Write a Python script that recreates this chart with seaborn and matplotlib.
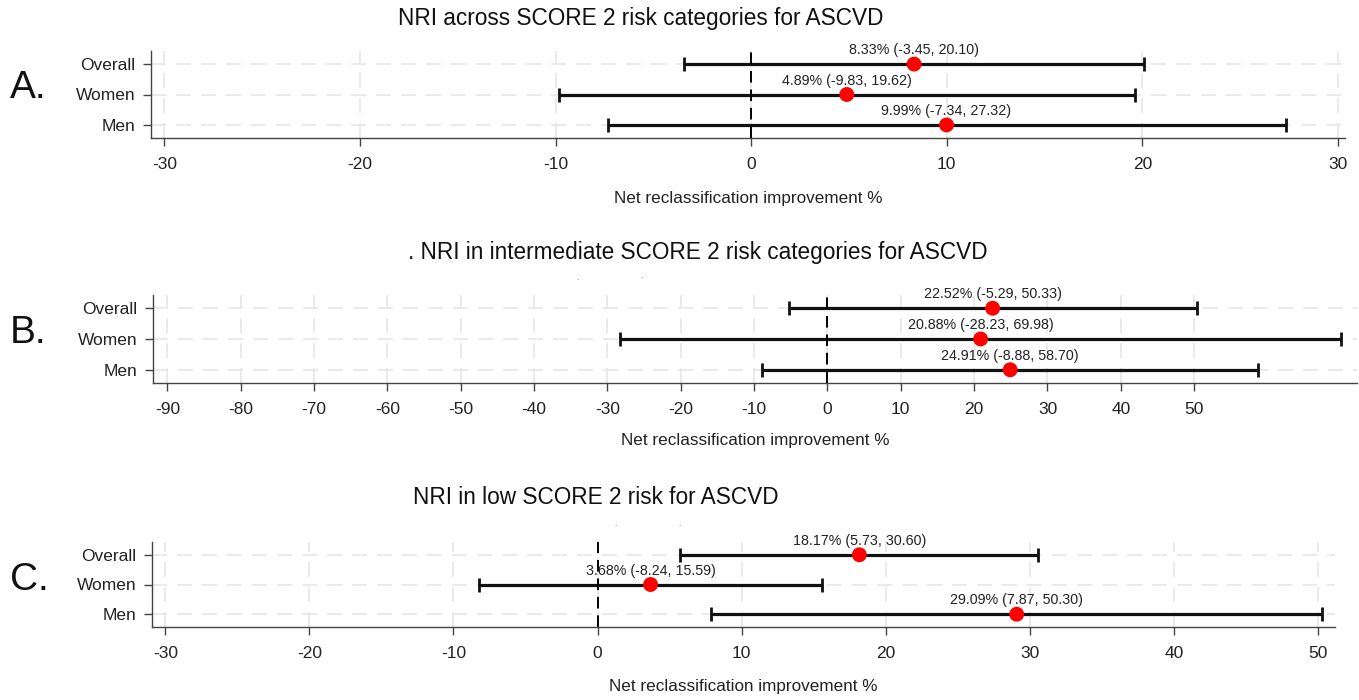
import numpy as np
import pandas as pd
import matplotlib
matplotlib.use("Agg")
import matplotlib.pyplot as plt
import seaborn as sns

# ---- data ----
groups = ["Overall", "Women", "Men"]

titles = ["NRI across SCORE 2 risk categories for ASCVD",
          ". NRI in intermediate SCORE 2 risk categories for ASCVD",
          "NRI in low SCORE 2 risk for ASCVD"]
panel_letters = ["A.", "B.", "C."]

a_est = [8.33, 4.89, 9.99]
a_lo = [-3.45, -9.83, -7.34]
a_hi = [20.10, 19.62, 27.32]

b_est = [22.52, 20.88, 24.91]
b_lo = [-5.29, -28.23, -8.88]
b_hi = [50.33, 69.98, 58.70]

c_est = [18.17, 3.68, 29.09]
c_lo = [5.73, -8.24, 7.87]
c_hi = [30.60, 15.59, 50.30]

a_ticks = [-30, -20, -10, 0, 10, 20, 30]
b_ticks = [-90, -80, -70, -60, -50, -40, -30, -20, -10, 0, 10, 20, 30, 40, 50]
c_ticks = [-30, -20, -10, 0, 10, 20, 30, 40, 50]

xlabel = "Net reclassification improvement %"

# ---- style ----
sns.set_theme(style="white")
regular = ["Liberation Sans", "DejaVu Sans"]
plt.rcParams["font.family"] = regular

W, H = 1359, 700
fig = plt.figure(figsize=(W / 100, H / 100), dpi=100)
fig.patch.set_facecolor("white")

# axes boxes in pixels: left, right, top, bottom
boxes = [(151, 1345, 51, 138), (153, 1357, 295, 383), (152, 1335, 542, 627)]
xlims = [(-30.68, 30.36), (-91.96, 72.2), (-30.92, 51.18)]
title_pos = [(641, 18), (698, 253), (596, 497)]
letter_y = [88, 333, 580]
xlabel_y = [198, 441, 686]
stray_dots = [(577, 279), (641, 276), (615, 524), (679, 524)]

panels = [(a_est, a_lo, a_hi, a_ticks), (b_est, b_lo, b_hi, b_ticks), (c_est, c_lo, c_hi, c_ticks)]

for i, ((est, lo, hi, ticks), (l, r, t, b)) in enumerate(zip(panels, boxes)):
    ax = fig.add_axes([l / W, 1 - b / H, (r - l) / W, (b - t) / H])
    df = pd.DataFrame({"group": groups, "est": est, "lo": lo, "hi": hi})
    err = [np.array(est) - np.array(lo), np.array(hi) - np.array(est)]
    ax.errorbar(df["est"], df["group"], xerr=err, fmt="none", ecolor="#111111",
                elinewidth=2.3, capsize=5, capthick=2.0, zorder=2)
    sns.scatterplot(data=df, x="est", y="group", color="#ff0000", s=115,
                    edgecolor="none", zorder=4, ax=ax, legend=False)
    for g, e, lo_, hi_ in zip(groups, est, lo, hi):
        ax.annotate(f"{e:.2f}% ({lo_:.2f}, {hi_:.2f})", xy=(e, g), xytext=(0, 5),
                    textcoords="offset points", ha="center", va="bottom",
                    fontsize=10.3, color="#222222", zorder=5)
    ax.axvline(0, color="black", linewidth=1.4, linestyle=(0, (6, 3.5)), zorder=3)
    ax.set_xlim(*xlims[i])
    ax.set_ylim(2.43, -0.43)
    ax.set_xticks(ticks)
    ax.set_xticklabels([str(v) for v in ticks])
    ax.grid(True, color="#e6e6e6", linestyle=(0, (9, 6)), linewidth=1.2, zorder=0)
    ax.set_axisbelow(True)
    for s in ["top", "right"]:
        ax.spines[s].set_visible(False)
    for s in ["left", "bottom"]:
        ax.spines[s].set_color("#444444")
        ax.spines[s].set_linewidth(1.0)
    ax.tick_params(axis="both", which="both", direction="out", length=6, width=1,
                   color="#444444", labelsize=12.5, labelcolor="#222222", pad=5,
                   left=True, bottom=True)
    ax.tick_params(axis="x", pad=8)
    ax.set_ylabel("")
    ax.set_xlabel("")
    fig.text((l + r) / 2 / W, 1 - xlabel_y[i] / H, xlabel, ha="center", va="center",
             fontsize=12.3, color="#222222")
    tx, ty = title_pos[i]
    fig.text(tx / W, 1 - ty / H, titles[i], ha="center", va="center",
             fontsize=16.3, color="#111111")
    fig.text(10 / W, 1 - letter_y[i] / H, panel_letters[i], ha="left", va="center",
             fontsize=28, color="#111111")

for dx, dy in stray_dots:
    fig.text(dx / W, 1 - dy / H, ".", ha="center", va="center", fontsize=6, color="#555555")

fig.savefig("out.png", dpi=100, facecolor="white")
